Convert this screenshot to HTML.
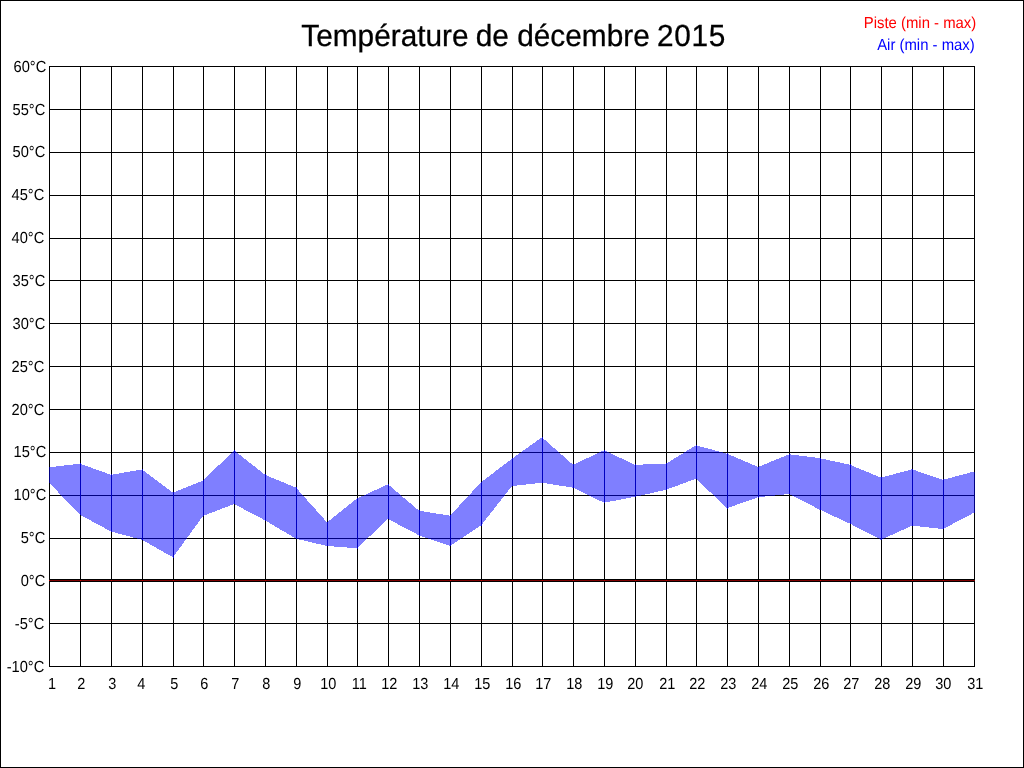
<!DOCTYPE html>
<html><head><meta charset="utf-8"><title>Température de décembre 2015</title>
<style>
html,body{margin:0;padding:0;background:#fff;}
body{width:1024px;height:768px;overflow:hidden;}
svg{display:block;}
text{font-family:"Liberation Sans",Arial,sans-serif;text-rendering:geometricPrecision;}
.g{shape-rendering:crispEdges;}
</style></head><body>
<svg width="1024" height="768" viewBox="0 0 1024 768">
<rect x="0" y="0" width="1024" height="768" fill="#fff"/>
<g class="g">
<rect x="0.5" y="0.5" width="1023" height="767" fill="none" stroke="#000" stroke-width="1"/>
<rect x="49" y="66" width="1" height="601" fill="#000"/>
<rect x="80" y="66" width="1" height="601" fill="#000"/>
<rect x="111" y="66" width="1" height="601" fill="#000"/>
<rect x="142" y="66" width="1" height="601" fill="#000"/>
<rect x="173" y="66" width="1" height="601" fill="#000"/>
<rect x="203" y="66" width="1" height="601" fill="#000"/>
<rect x="234" y="66" width="1" height="601" fill="#000"/>
<rect x="265" y="66" width="1" height="601" fill="#000"/>
<rect x="296" y="66" width="1" height="601" fill="#000"/>
<rect x="327" y="66" width="1" height="601" fill="#000"/>
<rect x="357" y="66" width="1" height="601" fill="#000"/>
<rect x="388" y="66" width="1" height="601" fill="#000"/>
<rect x="419" y="66" width="1" height="601" fill="#000"/>
<rect x="450" y="66" width="1" height="601" fill="#000"/>
<rect x="481" y="66" width="1" height="601" fill="#000"/>
<rect x="512" y="66" width="1" height="601" fill="#000"/>
<rect x="542" y="66" width="1" height="601" fill="#000"/>
<rect x="573" y="66" width="1" height="601" fill="#000"/>
<rect x="604" y="66" width="1" height="601" fill="#000"/>
<rect x="635" y="66" width="1" height="601" fill="#000"/>
<rect x="666" y="66" width="1" height="601" fill="#000"/>
<rect x="696" y="66" width="1" height="601" fill="#000"/>
<rect x="727" y="66" width="1" height="601" fill="#000"/>
<rect x="758" y="66" width="1" height="601" fill="#000"/>
<rect x="789" y="66" width="1" height="601" fill="#000"/>
<rect x="820" y="66" width="1" height="601" fill="#000"/>
<rect x="850" y="66" width="1" height="601" fill="#000"/>
<rect x="881" y="66" width="1" height="601" fill="#000"/>
<rect x="912" y="66" width="1" height="601" fill="#000"/>
<rect x="943" y="66" width="1" height="601" fill="#000"/>
<rect x="974" y="66" width="1" height="601" fill="#000"/>
<rect x="49" y="66" width="926" height="1" fill="#000"/>
<rect x="49" y="109" width="926" height="1" fill="#000"/>
<rect x="49" y="152" width="926" height="1" fill="#000"/>
<rect x="49" y="195" width="926" height="1" fill="#000"/>
<rect x="49" y="238" width="926" height="1" fill="#000"/>
<rect x="49" y="280" width="926" height="1" fill="#000"/>
<rect x="49" y="323" width="926" height="1" fill="#000"/>
<rect x="49" y="366" width="926" height="1" fill="#000"/>
<rect x="49" y="409" width="926" height="1" fill="#000"/>
<rect x="49" y="452" width="926" height="1" fill="#000"/>
<rect x="49" y="495" width="926" height="1" fill="#000"/>
<rect x="49" y="538" width="926" height="1" fill="#000"/>
<rect x="49" y="580" width="926" height="1" fill="#000"/>
<rect x="49" y="623" width="926" height="1" fill="#000"/>
<rect x="49" y="666" width="926" height="1" fill="#000"/>
<rect x="49" y="579" width="926" height="3" fill="#000"/>
<rect x="49" y="580" width="926" height="1" fill="#7f0000"/>
<polygon fill="#0000ff" fill-opacity="0.5" points="49,467.3 80,463.7 111,474.8 142,469.5 173,492.7 203,480.7 234,450.3 265,474.8 296,487.7 327,522.3 357,498.5 388,484.3 419,510.7 450,515.7 481,482.3 512,458.7 542,437.3 573,464.8 604,450.3 635,464.8 666,463.7 696,445.3 727,453.7 758,467 789,454.3 820,458.2 850,464.8 881,477.7 912,469.3 943,479.8 974,471.5 975,471.5 975,512.7 974,512.7 943,529 912,525.7 881,539.8 850,523.7 820,509.8 789,494 758,497.3 727,508.2 696,478.7 666,489.8 635,496.8 604,502.7 573,487.7 542,482.7 512,486 481,525.5 450,546 419,535.3 388,519 357,548.3 327,546 296,538.7 265,520.3 234,504 203,516 173,557.3 142,539.8 111,531.5 80,514.8 49,482.7"/>
<rect x="49" y="580" width="1" height="1" fill="#bf0000"/>
<rect x="80" y="463" width="1" height="52" fill="#0000bf"/>
<rect x="80" y="580" width="1" height="1" fill="#bf0000"/>
<rect x="111" y="474" width="1" height="58" fill="#0000bf"/>
<rect x="111" y="580" width="1" height="1" fill="#bf0000"/>
<rect x="142" y="469" width="1" height="71" fill="#0000bf"/>
<rect x="142" y="580" width="1" height="1" fill="#bf0000"/>
<rect x="173" y="492" width="1" height="66" fill="#0000bf"/>
<rect x="173" y="580" width="1" height="1" fill="#bf0000"/>
<rect x="203" y="480" width="1" height="36" fill="#0000bf"/>
<rect x="203" y="580" width="1" height="1" fill="#bf0000"/>
<rect x="234" y="450" width="1" height="54" fill="#0000bf"/>
<rect x="234" y="580" width="1" height="1" fill="#bf0000"/>
<rect x="265" y="474" width="1" height="47" fill="#0000bf"/>
<rect x="265" y="580" width="1" height="1" fill="#bf0000"/>
<rect x="296" y="487" width="1" height="52" fill="#0000bf"/>
<rect x="296" y="580" width="1" height="1" fill="#bf0000"/>
<rect x="327" y="522" width="1" height="24" fill="#0000bf"/>
<rect x="327" y="580" width="1" height="1" fill="#bf0000"/>
<rect x="357" y="498" width="1" height="51" fill="#0000bf"/>
<rect x="357" y="580" width="1" height="1" fill="#bf0000"/>
<rect x="388" y="484" width="1" height="35" fill="#0000bf"/>
<rect x="388" y="580" width="1" height="1" fill="#bf0000"/>
<rect x="419" y="510" width="1" height="26" fill="#0000bf"/>
<rect x="419" y="580" width="1" height="1" fill="#bf0000"/>
<rect x="450" y="515" width="1" height="31" fill="#0000bf"/>
<rect x="450" y="580" width="1" height="1" fill="#bf0000"/>
<rect x="481" y="482" width="1" height="44" fill="#0000bf"/>
<rect x="481" y="580" width="1" height="1" fill="#bf0000"/>
<rect x="512" y="458" width="1" height="28" fill="#0000bf"/>
<rect x="512" y="580" width="1" height="1" fill="#bf0000"/>
<rect x="542" y="437" width="1" height="46" fill="#0000bf"/>
<rect x="542" y="580" width="1" height="1" fill="#bf0000"/>
<rect x="573" y="464" width="1" height="24" fill="#0000bf"/>
<rect x="573" y="580" width="1" height="1" fill="#bf0000"/>
<rect x="604" y="450" width="1" height="53" fill="#0000bf"/>
<rect x="604" y="580" width="1" height="1" fill="#bf0000"/>
<rect x="635" y="464" width="1" height="33" fill="#0000bf"/>
<rect x="635" y="580" width="1" height="1" fill="#bf0000"/>
<rect x="666" y="463" width="1" height="27" fill="#0000bf"/>
<rect x="666" y="580" width="1" height="1" fill="#bf0000"/>
<rect x="696" y="445" width="1" height="34" fill="#0000bf"/>
<rect x="696" y="580" width="1" height="1" fill="#bf0000"/>
<rect x="727" y="453" width="1" height="56" fill="#0000bf"/>
<rect x="727" y="580" width="1" height="1" fill="#bf0000"/>
<rect x="758" y="467" width="1" height="31" fill="#0000bf"/>
<rect x="758" y="580" width="1" height="1" fill="#bf0000"/>
<rect x="789" y="454" width="1" height="40" fill="#0000bf"/>
<rect x="789" y="580" width="1" height="1" fill="#bf0000"/>
<rect x="820" y="458" width="1" height="52" fill="#0000bf"/>
<rect x="820" y="580" width="1" height="1" fill="#bf0000"/>
<rect x="850" y="464" width="1" height="60" fill="#0000bf"/>
<rect x="850" y="580" width="1" height="1" fill="#bf0000"/>
<rect x="881" y="477" width="1" height="63" fill="#0000bf"/>
<rect x="881" y="580" width="1" height="1" fill="#bf0000"/>
<rect x="912" y="469" width="1" height="57" fill="#0000bf"/>
<rect x="912" y="580" width="1" height="1" fill="#bf0000"/>
<rect x="943" y="479" width="1" height="50" fill="#0000bf"/>
<rect x="943" y="580" width="1" height="1" fill="#bf0000"/>
</g>
<text transform="translate(0 46) scale(0.977 1)" font-size="30.5" fill="#000" stroke="#000" stroke-width="0.3" xml:space="preserve"><tspan x="308.39">Température </tspan><tspan x="487.00">de </tspan><tspan x="529.38">décembre </tspan><tspan x="672.47" letter-spacing="0.68">2015</tspan></text>
<text transform="translate(976.2 28) scale(0.93 1.0)" font-size="16" text-anchor="end" fill="#ff0000">Piste (min - max)</text>
<text transform="translate(974.7 50) scale(0.93 1.0)" font-size="16" text-anchor="end" fill="#0000ff">Air (min - max)</text>
<text transform="translate(46.3 72) scale(0.915 1.0)" font-size="16" text-anchor="end" fill="#000">60°C</text>
<text transform="translate(45.3 115) scale(0.915 1.0)" font-size="16" text-anchor="end" fill="#000">55°C</text>
<text transform="translate(45.3 157) scale(0.915 1.0)" font-size="16" text-anchor="end" fill="#000">50°C</text>
<text transform="translate(44.3 200) scale(0.915 1.0)" font-size="16" text-anchor="end" fill="#000">45°C</text>
<text transform="translate(44.3 243) scale(0.915 1.0)" font-size="16" text-anchor="end" fill="#000">40°C</text>
<text transform="translate(45.3 286) scale(0.915 1.0)" font-size="16" text-anchor="end" fill="#000">35°C</text>
<text transform="translate(45.3 329) scale(0.915 1.0)" font-size="16" text-anchor="end" fill="#000">30°C</text>
<text transform="translate(44.3 372) scale(0.915 1.0)" font-size="16" text-anchor="end" fill="#000">25°C</text>
<text transform="translate(44.3 415) scale(0.915 1.0)" font-size="16" text-anchor="end" fill="#000">20°C</text>
<text transform="translate(46.3 457) scale(0.915 1.0)" font-size="16" text-anchor="end" fill="#000">15°C</text>
<text transform="translate(46.3 500) scale(0.915 1.0)" font-size="16" text-anchor="end" fill="#000">10°C</text>
<text transform="translate(45.3 543) scale(0.915 1.0)" font-size="16" text-anchor="end" fill="#000">5°C</text>
<text transform="translate(45.3 586) scale(0.915 1.0)" font-size="16" text-anchor="end" fill="#000">0°C</text>
<text transform="translate(44.3 629) scale(0.915 1.0)" font-size="16" text-anchor="end" fill="#000">-5°C</text>
<text transform="translate(44.3 672) scale(0.915 1.0)" font-size="16" text-anchor="end" fill="#000">-10°C</text>
<text transform="translate(52.0 689) scale(0.905 1.0)" font-size="16" text-anchor="middle" fill="#000">1</text>
<text transform="translate(81.2 689) scale(0.905 1.0)" font-size="16" text-anchor="middle" fill="#000">2</text>
<text transform="translate(112.2 689) scale(0.905 1.0)" font-size="16" text-anchor="middle" fill="#000">3</text>
<text transform="translate(141.2 689) scale(0.905 1.0)" font-size="16" text-anchor="middle" fill="#000">4</text>
<text transform="translate(174.2 689) scale(0.905 1.0)" font-size="16" text-anchor="middle" fill="#000">5</text>
<text transform="translate(204.2 689) scale(0.905 1.0)" font-size="16" text-anchor="middle" fill="#000">6</text>
<text transform="translate(235.2 689) scale(0.905 1.0)" font-size="16" text-anchor="middle" fill="#000">7</text>
<text transform="translate(266.2 689) scale(0.905 1.0)" font-size="16" text-anchor="middle" fill="#000">8</text>
<text transform="translate(297.2 689) scale(0.905 1.0)" font-size="16" text-anchor="middle" fill="#000">9</text>
<text transform="translate(328.2 689) scale(0.905 1.0)" font-size="16" text-anchor="middle" fill="#000">10</text>
<text transform="translate(359.2 689) scale(0.905 1.0)" font-size="16" text-anchor="middle" fill="#000">11</text>
<text transform="translate(389.2 689) scale(0.905 1.0)" font-size="16" text-anchor="middle" fill="#000">12</text>
<text transform="translate(420.2 689) scale(0.905 1.0)" font-size="16" text-anchor="middle" fill="#000">13</text>
<text transform="translate(451.2 689) scale(0.905 1.0)" font-size="16" text-anchor="middle" fill="#000">14</text>
<text transform="translate(482.2 689) scale(0.905 1.0)" font-size="16" text-anchor="middle" fill="#000">15</text>
<text transform="translate(513.2 689) scale(0.905 1.0)" font-size="16" text-anchor="middle" fill="#000">16</text>
<text transform="translate(543.2 689) scale(0.905 1.0)" font-size="16" text-anchor="middle" fill="#000">17</text>
<text transform="translate(574.2 689) scale(0.905 1.0)" font-size="16" text-anchor="middle" fill="#000">18</text>
<text transform="translate(605.2 689) scale(0.905 1.0)" font-size="16" text-anchor="middle" fill="#000">19</text>
<text transform="translate(635.3 689) scale(0.905 1.0)" font-size="16" text-anchor="middle" fill="#000">20</text>
<text transform="translate(667.2 689) scale(0.905 1.0)" font-size="16" text-anchor="middle" fill="#000">21</text>
<text transform="translate(697.2 689) scale(0.905 1.0)" font-size="16" text-anchor="middle" fill="#000">22</text>
<text transform="translate(728.2 689) scale(0.905 1.0)" font-size="16" text-anchor="middle" fill="#000">23</text>
<text transform="translate(759.2 689) scale(0.905 1.0)" font-size="16" text-anchor="middle" fill="#000">24</text>
<text transform="translate(790.2 689) scale(0.905 1.0)" font-size="16" text-anchor="middle" fill="#000">25</text>
<text transform="translate(821.2 689) scale(0.905 1.0)" font-size="16" text-anchor="middle" fill="#000">26</text>
<text transform="translate(851.2 689) scale(0.905 1.0)" font-size="16" text-anchor="middle" fill="#000">27</text>
<text transform="translate(882.2 689) scale(0.905 1.0)" font-size="16" text-anchor="middle" fill="#000">28</text>
<text transform="translate(913.2 689) scale(0.905 1.0)" font-size="16" text-anchor="middle" fill="#000">29</text>
<text transform="translate(943.2 689) scale(0.905 1.0)" font-size="16" text-anchor="middle" fill="#000">30</text>
<text transform="translate(975.2 689) scale(0.905 1.0)" font-size="16" text-anchor="middle" fill="#000">31</text>
</svg></body></html>
